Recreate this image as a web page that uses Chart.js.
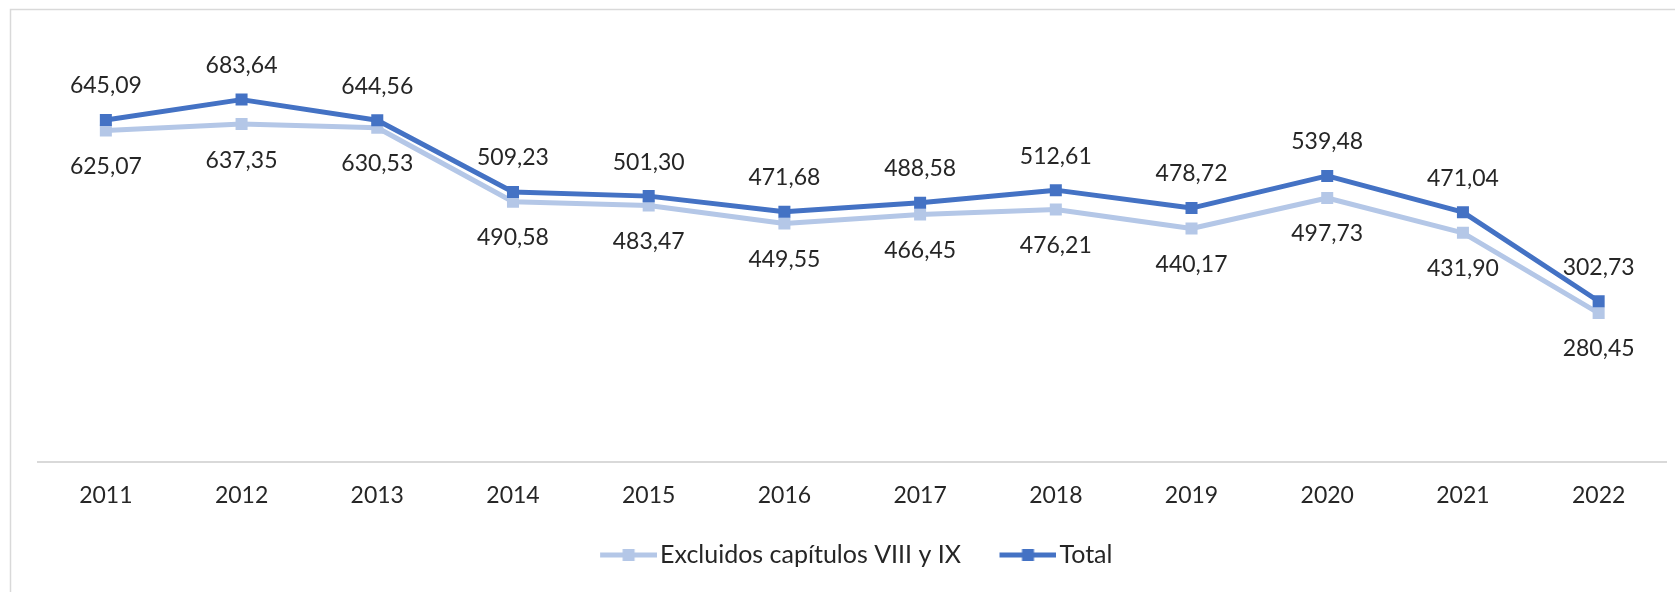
<!DOCTYPE html>
<html>
<head>
<meta charset="utf-8">
<script src="https://cdn.jsdelivr.net/npm/chart.js@4.4.1/dist/chart.umd.min.js"></script>
<style>
  html, body { margin: 0; padding: 0; background: #fff; }
  #wrap { width: 1675px; height: 592px; }
</style>
</head>
<body>
<div id="wrap"><canvas id="chart" width="1675" height="592"></canvas></div>
<script>
// data
const years = ['2011', '2012', '2013', '2014', '2015', '2016', '2017', '2018', '2019', '2020', '2021', '2022'];
const excluidos = [625.07, 637.35, 630.53, 490.58, 483.47, 449.55, 466.45, 476.21, 440.17, 497.73, 431.90, 280.45];
const total = [645.09, 683.64, 644.56, 509.23, 501.30, 471.68, 488.58, 512.61, 478.72, 539.48, 471.04, 302.73];
const seriesNames = ['Excluidos capítulos VIII y IX', 'Total'];
const yMin = 0;
const yMax = 800;

const lightBlue = '#b4c7e7';
const darkBlue = '#4472c4';
const textColor = '#262626';
const fontFamily = 'Lato, "Liberation Sans", sans-serif';
const legendFontSize = 25;

const format = (v) => v.toFixed(2).replace('.', ',');

// legend symbol: line with a square marker in the middle
const legendBoxW = 55;
function legendSymbol(color) {
    const c = document.createElement('canvas');
    c.width = legendBoxW + legendFontSize - 6;
    c.height = 14;
    const ctx = c.getContext('2d');
    const x0 = c.width - 57;
    ctx.strokeStyle = color;
    ctx.lineWidth = 5;
    ctx.beginPath();
    ctx.moveTo(x0, 7);
    ctx.lineTo(c.width, 7);
    ctx.stroke();
    ctx.fillStyle = color;
    ctx.fillRect(x0 + 28.5 - 6, 1, 12, 12);
    return c;
}
const symbols = [legendSymbol(lightBlue), legendSymbol(darkBlue)];

// light grey frame + white background
const framePlugin = {
    id: 'frame',
    beforeDraw(chart) {
        const ctx = chart.ctx;
        ctx.save();
        ctx.fillStyle = '#fff';
        ctx.fillRect(0, 0, chart.width, chart.height);
        ctx.strokeStyle = '#d9d9d9';
        ctx.lineWidth = 1.5;
        ctx.strokeRect(10.5, 9.5, 3000, 3000);
        ctx.restore();
    }
};

// value labels: Total above the points, Excluidos below
const valueLabels = {
    id: 'valueLabels',
    afterDatasetsDraw(chart) {
        const ctx = chart.ctx;
        ctx.save();
        ctx.font = '23px ' + fontFamily;
        ctx.fillStyle = textColor;
        ctx.textAlign = 'center';
        ctx.textBaseline = 'middle';
        chart.data.datasets.forEach((ds, i) => {
            const meta = chart.getDatasetMeta(i);
            const dy = i === 1 ? -34 : 36;
            meta.data.forEach((pt, j) => {
                ctx.fillText(format(ds.data[j]), pt.x, pt.y + dy);
            });
        });
        ctx.restore();
    }
};

new Chart(document.getElementById('chart'), {
    type: 'line',
    data: {
        labels: years,
        datasets: [
            {
                label: seriesNames[0],
                data: excluidos,
                borderColor: lightBlue,
                backgroundColor: lightBlue,
                borderWidth: 5,
                borderJoinStyle: 'round',
                pointStyle: 'rect',
                pointRadius: 8.5,
                pointBorderWidth: 0,
                pointBackgroundColor: lightBlue,
                tension: 0,
                order: 1
            },
            {
                label: seriesNames[1],
                data: total,
                borderColor: darkBlue,
                backgroundColor: darkBlue,
                borderWidth: 5,
                borderJoinStyle: 'round',
                pointStyle: 'rect',
                pointRadius: 8.5,
                pointBorderWidth: 0,
                pointBackgroundColor: darkBlue,
                tension: 0,
                order: 0
            }
        ]
    },
    options: {
        responsive: false,
        animation: false,
        devicePixelRatio: 1,
        layout: {
            padding: { left: 38, right: 8, top: 38, bottom: 14.5 }
        },
        plugins: {
            tooltip: { enabled: false },
            legend: {
                display: true,
                position: 'bottom',
                labels: {
                    usePointStyle: true,
                    pointStyleWidth: legendBoxW,
                    padding: 31,
                    color: textColor,
                    font: { family: fontFamily, size: legendFontSize, lineHeight: 1.2 },
                    sort: (a, b) => a.datasetIndex - b.datasetIndex,
                    generateLabels(chart) {
                        const items = Chart.defaults.plugins.legend.labels.generateLabels(chart);
                        items.forEach(it => { it.pointStyle = symbols[it.datasetIndex]; });
                        return items;
                    }
                }
            }
        },
        scales: {
            x: {
                offset: true,
                grid: { display: false, drawTicks: false, tickLength: 0 },
                border: { display: true, color: '#d9d9d9', width: 2 },
                ticks: {
                    padding: 20,
                    color: textColor,
                    font: { family: fontFamily, size: 23, lineHeight: 1.2 }
                },
                afterFit(scale) {
                    scale.height = 50;
                }
            },
            y: {
                display: false,
                min: yMin,
                max: yMax
            }
        }
    },
    plugins: [framePlugin, valueLabels]
});
</script>
</body>
</html>
